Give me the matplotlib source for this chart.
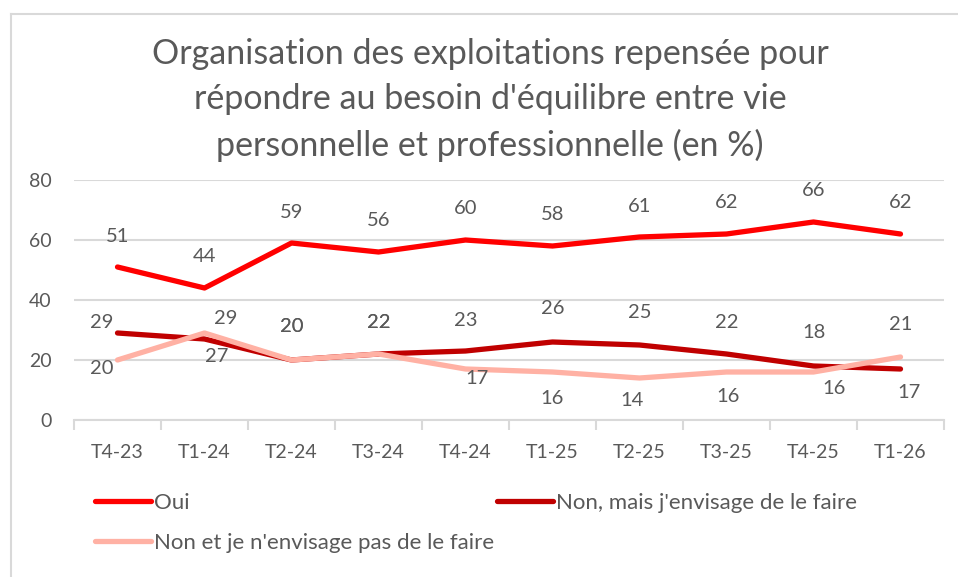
import matplotlib.pyplot as plt
from matplotlib.lines import Line2D

categories = ['T4-23', 'T1-24', 'T2-24', 'T3-24', 'T4-24', 'T1-25', 'T2-25', 'T3-25', 'T4-25', 'T1-26']
oui = [51, 44, 59, 56, 60, 58, 61, 62, 66, 62]
non_mais = [29, 27, 20, 22, 23, 26, 25, 22, 18, 17]
non_et = [20, 29, 20, 22, 17, 16, 14, 16, 16, 21]

series_names = ['Oui', "Non, mais j'envisage de le faire", "Non et je n'envisage pas de le faire"]
title = ("Organisation des exploitations repensée pour\n"
         "répondre au besoin d'équilibre entre vie\n"
         "personnelle et professionnelle (en %)")

# label offsets in pixels (dx, dy) - placed by hand like in the Excel chart
oui_offsets = [(0, 31)] * 10
non_mais_offsets = [(-16, 11), (12, -17), (0, 33), (0, 32), (0, 31), (0, 33), (0, 33), (0, 32), (1, 33), (8, -23)]
non_et_offsets = [(-16, -9), (21, 14), (0, 33), (0, 32), (11, -10), (0, -26), (-7, -23), (2, -25), (21, -17), (0, 33)]

colors = ['#FF0000', '#C00000', '#FFB1A4']
grey = '#595959'
light_grey = '#D9D9D9'

plt.rcParams['font.family'] = ['Lato', 'DejaVu Sans']

fig = plt.figure(figsize=(9.58, 5.77), dpi=100)
ax = fig.add_axes([74 / 958, 1 - 420 / 577, 870 / 958, 240 / 577])

x = list(range(len(categories)))
all_series = [oui, non_mais, non_et]
all_offsets = [oui_offsets, non_mais_offsets, non_et_offsets]
lines = []
for vals, col, name in zip(all_series, colors, series_names):
    ln, = ax.plot(x, vals, color=col, lw=3.8, solid_capstyle='round', solid_joinstyle='round', label=name)
    lines.append(ln)
# light pink line sits on top of the dark red one
lines[2].set_zorder(2.1)

for vals, offs in zip(all_series, all_offsets):
    for xi, v, (dx, dy) in zip(x, vals, offs):
        ax.annotate(str(v), (xi, v), xytext=(dx, dy), textcoords='offset pixels',
                    ha='center', va='center', fontsize=14.5, color=grey)

ax.set_xlim(-0.5, len(categories) - 0.5)
ax.set_ylim(0, 80)
ax.set_yticks([0, 20, 40, 60, 80])
ax.yaxis.grid(True, color=light_grey, lw=1.5)
ax.set_axisbelow(True)
ax.tick_params(axis='y', length=0, pad=16, labelsize=14, labelcolor=grey)

ax.set_xticks(x)
ax.set_xticklabels(categories)
ax.tick_params(axis='x', which='major', length=0, pad=17, labelsize=14, labelcolor=grey)
ax.set_xticks([i - 0.5 for i in range(len(categories) + 1)], minor=True)
ax.tick_params(axis='x', which='minor', length=7, width=1.5, color=light_grey)

for s in ['top', 'right', 'left']:
    ax.spines[s].set_visible(False)
ax.spines['bottom'].set_color(light_grey)
ax.spines['bottom'].set_linewidth(1.5)

fig.text(490 / 958, 1 - 100 / 577, title, ha='center', va='center', fontsize=24.5,
         color=grey, linespacing=1.5)

# chart frame (left and top edge visible)
fig.add_artist(Line2D([11 / 958, 11 / 958], [0, 1 - 14 / 577], color=light_grey, lw=1.5))
fig.add_artist(Line2D([11 / 958, 1], [1 - 14 / 577, 1 - 14 / 577], color=light_grey, lw=1.5))

leg = fig.legend([lines[0], lines[2], lines[1]], [series_names[0], series_names[2], series_names[1]],
                 ncol=2, loc='upper left', bbox_to_anchor=(95 / 958, 1 - 493 / 577),
                 frameon=False, fontsize=16, handlelength=2.5, handletextpad=0.15,
                 columnspacing=0.15, labelspacing=0.9, labelcolor=grey, borderaxespad=0,
                 borderpad=0)

fig.savefig('out.png', dpi=100)
